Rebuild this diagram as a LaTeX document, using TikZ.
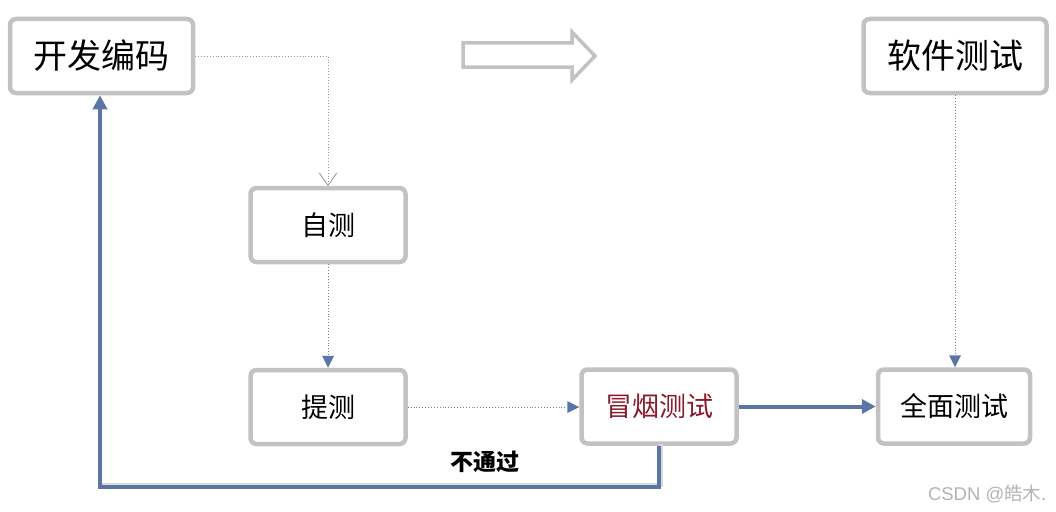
\documentclass[tikz,border=0pt]{standalone}
\usepackage{fontspec}
\setmainfont{Noto Sans CJK SC}
\newfontfamily\wmfont{Liberation Sans}
\usetikzlibrary{arrows.meta}
\definecolor{boxgray}{HTML}{C2C2C2}
\definecolor{flowblue}{HTML}{5B76A6}
\definecolor{dotgray}{HTML}{9A9A9A}
\definecolor{dotblue}{HTML}{7A86A0}
\definecolor{smokered}{HTML}{8B1A2B}
\definecolor{wmgray}{HTML}{B4B4B4}
\tikzset{
  stepbox/.style={draw=boxgray, line width=4.5pt, rounded corners=6pt, fill=white,
    inner sep=0pt, align=center, font=\fontsize{27}{30}\selectfont},
  bigbox/.style={stepbox, minimum width=183pt, minimum height=74pt,
    font=\fontsize{34}{38}\selectfont},
  smallbox/.style={stepbox, minimum width=155pt, minimum height=74pt},
  dotline/.style={draw=dotgray, line width=0.9pt, dotted},
  dotarrow/.style={draw=dotblue, line width=0.9pt, dotted,
    -{Triangle[length=12pt,width=12pt,fill=flowblue,line width=0pt]}},
  thickflow/.style={draw=flowblue, line width=4pt},
  shadowline/.style={draw=black!15, line width=4pt},
}
\begin{document}
\begin{tikzpicture}[x=1pt,y=-1pt]
\useasboundingbox[fill=white] (0,0) rectangle (1056,511);

% hollow arrow
\draw[boxgray, line width=3.5pt, line join=miter]
  (463,43) -- (572,43) -- (572,32) -- (595,56) -- (572,80) -- (572,67) -- (463,67) -- cycle;

% nodes
\node[bigbox] (kf) at (101.5,56) {开发编码};
\node[bigbox] (rj) at (955,56) {软件测试};
\node[smallbox] (zc) at (328,225) {自测};
\node[smallbox] (tc) at (328,407) {提测};
\node[smallbox, text=smokered] (my) at (659,406.5) {冒烟测试};
\node[smallbox, minimum width=152pt] (qm) at (954,406.5) {全面测试};

% dotted connectors
\draw[dotline, -{Straight Barb[length=12pt,width=17pt,line width=0.9pt,round]}]
  (kf.east) -| (zc.north);
\draw[dotarrow] (zc.south) -- (tc.north);
\draw[dotarrow] (tc.east) -- (tc.east -| my.west);
\draw[dotarrow] (rj.south) -- (rj.south |- qm.north);

% thick flow connectors
\coordinate (low) at (100,487);
\draw[shadowline] ([xshift=2pt,yshift=2pt]my.south) |- ([xshift=2pt,yshift=2pt]low);
\draw[thickflow, -{Triangle[length=14pt,width=14pt]}] (my.east) -- (qm.west);
\draw[thickflow, -{Triangle[length=14pt,width=14pt]}]
  (my.south) |- (low) -- (low |- kf.south);

% label
\node[font=\fontsize{23}{26}\selectfont\bfseries] (ntg) at (485,462) {不通过};

% watermark
\node[text=wmgray, font=\fontsize{18.5}{21}\selectfont, anchor=east] (wm) at (1050,494)
  {{\wmfont CSDN @}皓木.};
\end{tikzpicture}
\end{document}
